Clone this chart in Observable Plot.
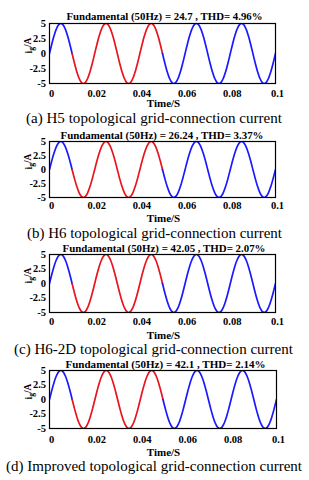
<!DOCTYPE html>
<html><head><meta charset="utf-8">
<script src="https://cdn.jsdelivr.net/npm/d3@7"></script>
<script src="https://cdn.jsdelivr.net/npm/@observablehq/plot@0.6"></script>
<style>
html,body{margin:0;padding:0;background:#fff}
body{width:309px;height:480px;overflow:hidden;position:relative;font-family:"Liberation Serif","Times New Roman",serif}
.panel{position:absolute;left:0}
.cap{position:absolute;font-size:15px;white-space:nowrap;color:#000;line-height:1;transform-origin:left center}
</style></head><body>
<script>
// ---- data ----
const time = [0,0.001,0.002,0.003,0.004,0.005,0.006,0.007,0.008,0.009,
0.010,0.011,0.012,0.013,0.014,0.015,0.016,0.017,0.018,0.019,
0.020,0.021,0.022,0.023,0.024,0.025,0.026,0.027,0.028,0.029,
0.030,0.031,0.032,0.033,0.034,0.035,0.036,0.037,0.038,0.039,
0.040,0.041,0.042,0.043,0.044,0.045,0.046,0.047,0.048,0.049,
0.050,0.051,0.052,0.053,0.054,0.055,0.056,0.057,0.058,0.059,
0.060,0.061,0.062,0.063,0.064,0.065,0.066,0.067,0.068,0.069,
0.070,0.071,0.072,0.073,0.074,0.075,0.076,0.077,0.078,0.079,
0.080,0.081,0.082,0.083,0.084,0.085,0.086,0.087,0.088,0.089,
0.090,0.091,0.092,0.093,0.094,0.095,0.096,0.097,0.098,0.099,0.100];

const currentA = [0,1.55,2.94,4.05,4.76,5,4.76,4.05,2.94,1.55,0,-1.55,-2.94,-4.05,-4.76,-5,-4.76,-4.05,-2.94,-1.55,
0,1.55,2.94,4.05,4.76,5,4.76,4.05,2.94,1.55,0,-1.55,-2.94,-4.05,-4.76,-5,-4.76,-4.05,-2.94,-1.55,
0,1.55,2.94,4.05,4.76,5,4.76,4.05,2.94,1.55,0,-1.55,-2.94,-4.05,-4.76,-5,-4.76,-4.05,-2.94,-1.55,
0,1.55,2.94,4.05,4.76,5,4.76,4.05,2.94,1.55,0,-1.55,-2.94,-4.05,-4.76,-5,-4.76,-4.05,-2.94,-1.55,
0,1.55,2.94,4.05,4.76,5,4.76,4.05,2.94,1.55,0,-1.55,-2.94,-4.05,-4.76,-5,-4.76,-4.05,-2.94,-1.55,0];
const currentB = [0,1.55,2.94,4.05,4.76,5,4.76,4.05,2.94,1.55,0,-1.55,-2.94,-4.05,-4.76,-5,-4.76,-4.05,-2.94,-1.55,
0,1.55,2.94,4.05,4.76,5,4.76,4.05,2.94,1.55,0,-1.55,-2.94,-4.05,-4.76,-5,-4.76,-4.05,-2.94,-1.55,
0,1.55,2.94,4.05,4.76,5,4.76,4.05,2.94,1.55,0,-1.55,-2.94,-4.05,-4.76,-5,-4.76,-4.05,-2.94,-1.55,
0,1.55,2.94,4.05,4.76,5,4.76,4.05,2.94,1.55,0,-1.55,-2.94,-4.05,-4.76,-5,-4.76,-4.05,-2.94,-1.55,
0,1.55,2.94,4.05,4.76,5,4.76,4.05,2.94,1.55,0,-1.55,-2.94,-4.05,-4.76,-5,-4.76,-4.05,-2.94,-1.55,0];
const currentC = [0,1.55,2.94,4.05,4.76,5,4.76,4.05,2.94,1.55,0,-1.55,-2.94,-4.05,-4.76,-5,-4.76,-4.05,-2.94,-1.55,
0,1.55,2.94,4.05,4.76,5,4.76,4.05,2.94,1.55,0,-1.55,-2.94,-4.05,-4.76,-5,-4.76,-4.05,-2.94,-1.55,
0,1.55,2.94,4.05,4.76,5,4.76,4.05,2.94,1.55,0,-1.55,-2.94,-4.05,-4.76,-5,-4.76,-4.05,-2.94,-1.55,
0,1.55,2.94,4.05,4.76,5,4.76,4.05,2.94,1.55,0,-1.55,-2.94,-4.05,-4.76,-5,-4.76,-4.05,-2.94,-1.55,
0,1.55,2.94,4.05,4.76,5,4.76,4.05,2.94,1.55,0,-1.55,-2.94,-4.05,-4.76,-5,-4.76,-4.05,-2.94,-1.55,0];
const currentD = [0,1.55,2.94,4.05,4.76,5,4.76,4.05,2.94,1.55,0,-1.55,-2.94,-4.05,-4.76,-5,-4.76,-4.05,-2.94,-1.55,
0,1.55,2.94,4.05,4.76,5,4.76,4.05,2.94,1.55,0,-1.55,-2.94,-4.05,-4.76,-5,-4.76,-4.05,-2.94,-1.55,
0,1.55,2.94,4.05,4.76,5,4.76,4.05,2.94,1.55,0,-1.55,-2.94,-4.05,-4.76,-5,-4.76,-4.05,-2.94,-1.55,
0,1.55,2.94,4.05,4.76,5,4.76,4.05,2.94,1.55,0,-1.55,-2.94,-4.05,-4.76,-5,-4.76,-4.05,-2.94,-1.55,
0,1.55,2.94,4.05,4.76,5,4.76,4.05,2.94,1.55,0,-1.55,-2.94,-4.05,-4.76,-5,-4.76,-4.05,-2.94,-1.55,0];

const redStart = 0.01, redEnd = 0.05;
const titles = [
  "Fundamental (50Hz) = 24.7 , THD= 4.96%",
  "Fundamental (50Hz) = 26.24 , THD= 3.37%",
  "Fundamental (50Hz) = 42.05 , THD= 2.07%",
  "Fundamental (50Hz) = 42.1 , THD= 2.14%"
];
const captions = [
  "(a) H5 topological grid-connection current",
  "(b) H6 topological grid-connection current",
  "(c) H6-2D topological grid-connection current",
  "(d) Improved topological grid-connection current"
];
const xTicks = [0,0.02,0.04,0.06,0.08,0.1];
const xTickLabels = ["0","0.02","0.04","0.06","0.08","0.1"];
const yTicks = [5,2.5,0,-2.5,-5];
const yTickLabels = ["5","2.5","0","-2.5","-5"];
const xLabel = "Time/S";
const yLabel = ["i","g","/A"];
const series = [currentA, currentB, currentC, currentD];

// ---- layout ----
const layout = [
  {titleY:16, tL:66, tR:262, top:23, bottom:83, right:275, tickY:95, labelY:103, capY:118, cL:26, cR:282},
  {titleY:135, tL:60, tR:263, top:141, bottom:197, right:275, tickY:207, labelY:218, capY:233, cL:27, cR:282},
  {titleY:248.5, tL:62, tR:265, top:254, bottom:312, right:275, tickY:323, labelY:335, capY:349, cL:14, cR:293},
  {titleY:364, tL:65, tR:265, top:370, bottom:428, right:276, tickY:441, labelY:452, capY:466, cL:6, cR:302}
];
const W = 309, left = 49, fs = 10.5;
const BLUE = "#1a1aff", RED = "#e8141e";

layout.forEach((L, i) => {
  const pts = time.map((t, k) => ({t, v: series[i][k]}));
  const seg0 = pts.filter(d => d.t <= redStart + 1e-9);
  const seg1 = pts.filter(d => d.t >= redStart - 1e-9 && d.t <= redEnd + 1e-9);
  const seg2 = pts.filter(d => d.t >= redEnd - 1e-9);
  const svgTop = Math.floor(L.titleY - 9);
  const svgBottom = L.labelY + 8;
  const H = svgBottom - svgTop;
  const mt = L.top - svgTop;
  const mb = svgBottom - L.bottom;
  const frameCenter = (left + L.right) / 2;
  const lineOpts = {x: "t", y: "v", strokeWidth: 1.7, curve: "catmull-rom", clip: true};
  const chart = Plot.plot({
    width: W, height: H,
    marginLeft: left, marginRight: W - L.right, marginTop: mt, marginBottom: mb,
    style: {fontFamily: '"Liberation Serif","Times New Roman",serif', background: "transparent", overflow: "visible", color: "#000"},
    x: {domain: [0, 0.1]},
    y: {domain: [-5, 5]},
    marks: [
      Plot.line(seg0, {...lineOpts, stroke: BLUE}),
      Plot.line(seg1, {...lineOpts, stroke: RED}),
      Plot.line(seg2, {...lineOpts, stroke: BLUE}),
      Plot.frame({stroke: "#000", strokeWidth: 1.2}),
      Plot.axisX({ticks: xTicks, tickFormat: d => xTickLabels[xTicks.indexOf(d)], tickSize: 0,
        tickPadding: L.tickY - L.bottom - 6, dx: 2, fontWeight: "bold", fontSize: fs, label: null}),
      Plot.axisY({ticks: yTicks, tickFormat: d => yTickLabels[yTicks.indexOf(d)], tickSize: 0,
        tickPadding: 3.5, fontWeight: "bold", fontSize: fs, label: null}),
      Plot.text([titles[i]], {frameAnchor: "top", lineAnchor: "middle", dy: -(L.top - L.titleY),
        dx: (L.tL + L.tR) / 2 - frameCenter, fontWeight: "bold", fontSize: fs, text: d => d}),
      Plot.text([xLabel], {frameAnchor: "bottom", lineAnchor: "middle", dy: L.labelY - L.bottom,
        dx: 163 - frameCenter, fontWeight: "bold", fontSize: fs + 0.5, text: d => d}),
      Plot.text([yLabel.join("")], {frameAnchor: "left", lineAnchor: "middle", dx: -21, rotate: -90,
        fontWeight: "bold", fontSize: 9.5, text: d => d})
    ]
  });
  chart.classList.add("panel");
  chart.style.top = svgTop + "px";
  const ns = "http://www.w3.org/2000/svg";
  chart.querySelectorAll("text").forEach(tx => {
    if (tx.textContent === yLabel.join("")) {
      tx.textContent = "";
      const a = document.createElementNS(ns, "tspan"); a.textContent = yLabel[0];
      const b = document.createElementNS(ns, "tspan"); b.textContent = yLabel[1];
      b.setAttribute("dy", "0.3em"); b.setAttribute("font-size", "0.8em");
      const c = document.createElementNS(ns, "tspan"); c.textContent = yLabel[2];
      c.setAttribute("dy", "-0.3em");
      tx.append(a, b, c);
    } else if (tx.textContent === titles[i]) {
      tx.setAttribute("textLength", L.tR - L.tL);
      tx.setAttribute("lengthAdjust", "spacingAndGlyphs");
    }
  });
  document.body.appendChild(chart);
  const cap = document.createElement("div");
  cap.className = "cap";
  cap.textContent = captions[i];
  cap.style.left = L.cL + "px";
  cap.style.top = L.capY + "px";
  document.body.appendChild(cap);
  const w = cap.getBoundingClientRect().width;
  cap.style.transform = `translateY(-50%) scaleX(${(L.cR - L.cL) / w})`;
});
</script>
</body></html>
